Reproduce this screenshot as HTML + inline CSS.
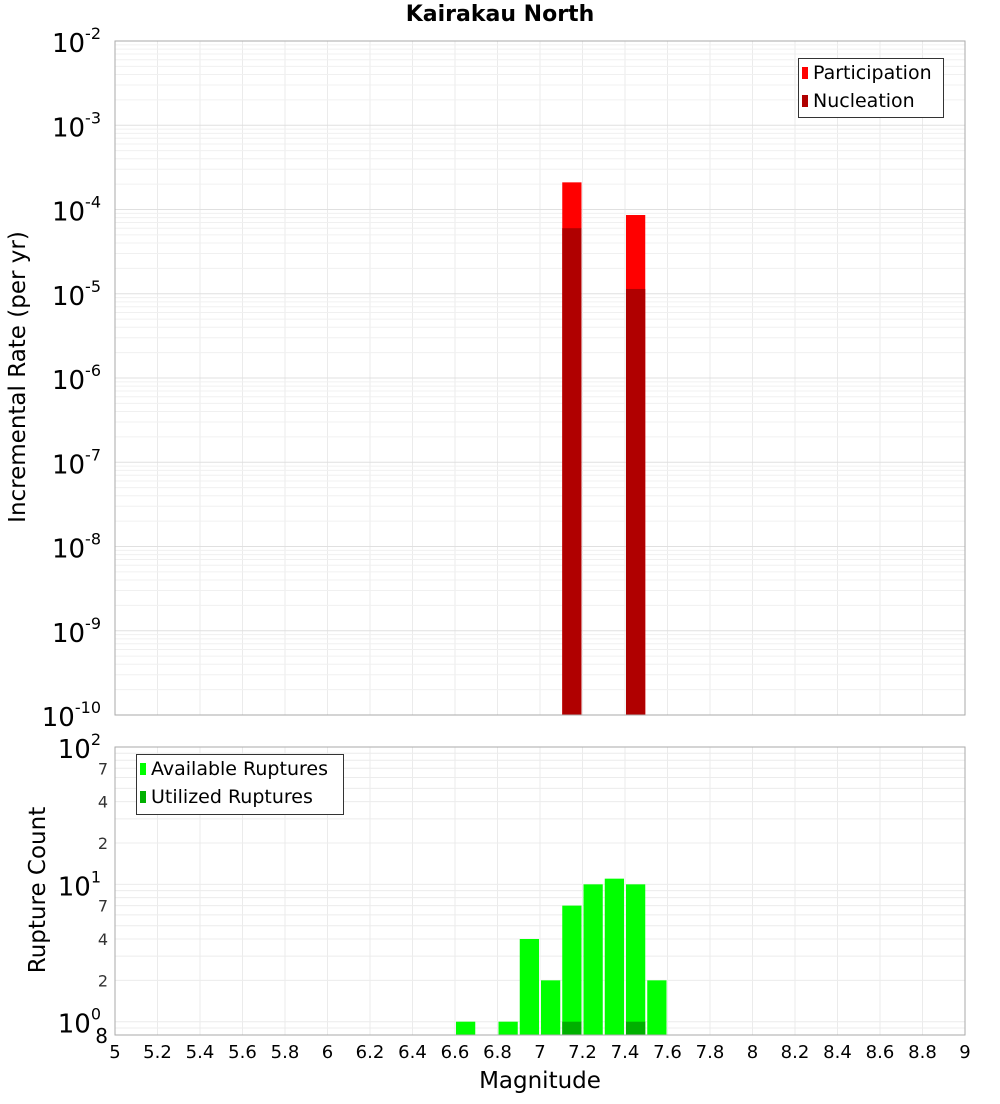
<!DOCTYPE html>
<html><head><meta charset="utf-8"><style>
body{margin:0;background:#fff;font-family:"DejaVu Sans","Liberation Sans",sans-serif}
svg text{font-family:"DejaVu Sans","Liberation Sans",sans-serif}
</style></head><body>
<svg id="c" width="1000" height="1100" xmlns="http://www.w3.org/2000/svg"></svg>
<script>
const bins=[6.65,6.75,6.85,6.95,7.05,7.15,7.25,7.35,7.45,7.55];
const participation=[0,0,0,0,0,2.1e-4,0,0,8.6e-5,0];
const nucleation=[0,0,0,0,0,6.0e-5,0,0,1.14e-5,0];
const available=[1,0,1,4,2,7,10,11,10,2];
const utilized=[0,0,0,0,0,1,0,0,1,0];
const xTicks=[5,5.2,5.4,5.6,5.8,6,6.2,6.4,6.6,6.8,7,7.2,7.4,7.6,7.8,8,8.2,8.4,8.6,8.8,9];
const topExps=[-2,-3,-4,-5,-6,-7,-8,-9,-10];
const botMinor=[2,4,7,20,40,70];

const svg=document.getElementById('c');
const NS='http://www.w3.org/2000/svg';
function el(t,a,p){const e=document.createElementNS(NS,t);for(const k in a)e.setAttribute(k,a[k]);(p||svg).appendChild(e);return e;}
const L=115,R=965;
const x=m=>L+(m-5)/4*(R-L);
const T0=41,T1=715;
const yT=v=>T0+(-2-Math.log10(v))/8*(T1-T0);
const B0=747,B1=1035;
const yB=v=>B0+(2-Math.log10(v))/(2-Math.log10(0.8))*(B1-B0);

for(let m=5;m<=9.001;m+=0.2){
  const l1=el('line',{x1:x(m),x2:x(m),y1:T0,y2:T1,stroke:'#ebebeb'});
  
  const l2=el('line',{x1:x(m),x2:x(m),y1:B0,y2:B1,stroke:'#ebebeb'});
  
}
for(let e=-10;e<-2;e++)for(let k=1;k<10;k++){
  const v=k*Math.pow(10,e);
  const g=el('line',{x1:L,x2:R,y1:yT(v),y2:yT(v),stroke:k==1?'#e0e0e0':'#f0f0f0'});
  
}
for(let e=-1;e<2;e++)for(let k=1;k<10;k++){
  const v=k*Math.pow(10,e);if(v<0.8)continue;
  const g=el('line',{x1:L,x2:R,y1:yB(v),y2:yB(v),stroke:'#ececec'});
  
}
const bw=(R-L)/40;
bins.forEach((b,i)=>{
  if(participation[i]>0){const r=el('rect',{x:x(b)-bw/2+1,y:yT(participation[i]),width:bw-2,height:T1-yT(participation[i]),fill:'#ff0000'});
  }
  if(nucleation[i]>0){const r=el('rect',{x:x(b)-bw/2+1,y:yT(nucleation[i]),width:bw-2,height:T1-yT(nucleation[i]),fill:'#b00000'});
  }
  if(available[i]>0){const r=el('rect',{x:x(b)-bw/2+1,y:yB(available[i]),width:bw-2,height:B1-yB(available[i]),fill:'#00ff00'});
  }
  if(utilized[i]>0){const r=el('rect',{x:x(b)-bw/2+1,y:yB(utilized[i]),width:bw-2,height:B1-yB(utilized[i]),fill:'#00b000'});
  }
});
let f=el('rect',{x:L,y:T0,width:R-L,height:T1-T0,fill:'none',stroke:'#aaa'});

f=el('rect',{x:L,y:B0,width:R-L,height:B1-B0,fill:'none',stroke:'#aaa'});

topExps.forEach(e=>{
  const t=el('text',{x:101,y:yT(Math.pow(10,e))+11,'text-anchor':'end','font-size':26});
  
  t.textContent='10';
  const s=el('tspan',{dy:-13,'font-size':16},t);s.textContent=String(e);
});
[[100,'2'],[10,'1'],[1,'0']].forEach(([v,e])=>{
  const t=el('text',{x:101,y:yB(v)+11,'text-anchor':'end','font-size':26});
  
  t.textContent='10';
  const s=el('tspan',{dy:-13,'font-size':16},t);s.textContent=e;
});
botMinor.forEach(v=>{
  const t=el('text',{x:108,y:yB(v)+6,'text-anchor':'end','font-size':16,fill:'#333'});
  
  t.textContent=String(v<10?v:v/10);
});
let t8=el('text',{x:108,y:1043,'text-anchor':'end','font-size':20});
t8.textContent='8';
xTicks.forEach(m=>{
  const t=el('text',{x:x(m),y:1058,'text-anchor':'middle','font-size':18});
  
  t.textContent=String(m);
});
</script>
<div style="position:absolute;left:0;top:0;width:1000px;height:1100px;pointer-events:none">
<div style="position:absolute;top:2px;left:0;width:1000px;text-align:center;font-weight:bold;font-size:22px;">Kairakau North</div>
<div style="position:absolute;left:-132px;top:364px;width:300px;text-align:center;font-size:23px;transform:rotate(-90deg);">Incremental Rate (per yr)</div>
<div style="position:absolute;left:-112px;top:877px;width:300px;text-align:center;font-size:23px;transform:rotate(-90deg);">Rupture Count</div>
<div style="position:absolute;left:390px;top:1068px;width:300px;text-align:center;font-size:23px;">Magnitude</div>
<div style="position:absolute;left:798px;top:58px;width:146px;height:60px;border:1px solid #333;background:#fff;font-size:19px;line-height:28px;box-sizing:border-box;padding-left:3px">
<div><span style="display:inline-block;width:6px;height:12px;background:#f00;margin-right:5px"></span>Participation</div>
<div><span style="display:inline-block;width:6px;height:12px;background:#b00000;margin-right:5px"></span>Nucleation</div>
</div>
<div style="position:absolute;left:136px;top:754px;width:208px;height:61px;border:1px solid #333;background:#fff;font-size:19px;line-height:28px;box-sizing:border-box;padding-left:3px">
<div><span style="display:inline-block;width:6px;height:12px;background:#0f0;margin-right:5px"></span>Available Ruptures</div>
<div><span style="display:inline-block;width:6px;height:12px;background:#00b000;margin-right:5px"></span>Utilized Ruptures</div>
</div>
</div>
</body></html>
